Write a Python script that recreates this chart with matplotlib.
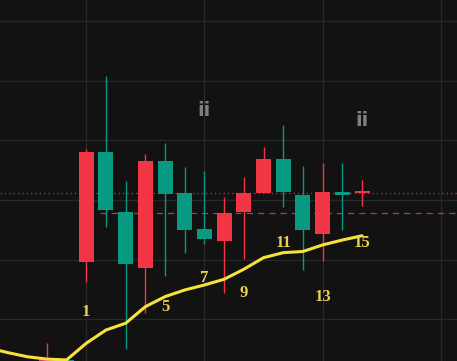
# ====================================
# CANDLESTICK CHART WITH MOVING AVERAGE
# ====================================

import numpy as np
import matplotlib.pyplot as plt

# ====================================
# DATA
# ====================================

candle_index = [-1, 0, 1, 2, 3, 4, 5, 6, 7, 8, 9, 10, 11, 12, 13, 14, 15]

opens = [86.7, 85.9, 104.03, 99.16, 94.66, 103.27, 100.53, 97.51, 96.75,
         98.91, 100.59, 103.44, 100.65, 97.46, 100.70, 100.39, 100.61]
highs = [88.0, 86.8, 104.25, 110.40, 101.59, 103.83, 104.78, 102.77, 102.43,
         100.25, 101.90, 104.42, 106.29, 102.85, 103.10, 103.10, 101.65]
lows = [85.5, 85.5, 93.15, 97.76, 87.50, 90.52, 93.65, 95.58, 96.33,
        92.22, 95.08, 100.61, 99.44, 94.15, 94.91, 97.46, 99.52]
closes = [85.8, 86.6, 94.82, 104.03, 98.99, 94.32, 103.27, 100.61, 97.59,
          96.59, 99.02, 100.61, 103.44, 100.42, 97.12, 100.70, 100.60]

ma_index = [-4, -3, -2, -1, 0, 1, 2, 3, 4, 5, 6, 7, 8, 9, 10, 11, 12, 13, 14, 15]
ma_values = [87.6, 87.2, 86.85, 86.65, 86.58, 87.98, 89.09, 89.66, 91.05,
             91.89, 92.45, 92.87, 93.35, 94.19, 95.16, 95.58, 95.68, 96.23,
             96.64, 97.00]

wave_labels = ["1", "5", "7", "9", "11", "13", "15"]
wave_index = [1, 5, 7, 9, 11, 13, 15]
wave_price = [90.57, 91.03, 93.46, 92.21, 96.42, 91.84, 96.42]

ii_index = [7, 15]
ii_price = [107.47, 106.71]

last_price = 100.59
dashed_price = 98.88

# ====================================
# STYLE
# ====================================

BG = "#121212"
GRID = "#282828"
UP = "#089981"
DOWN = "#f23645"
MA_COLOR = "#f7e23c"
LABEL_COLOR = "#e8d24e"

# ====================================
# FIGURE
# ====================================

fig = plt.figure(figsize=(4.57, 3.61), dpi=100)
fig.patch.set_facecolor(BG)

ax = fig.add_axes([0, 0, 1, 1])
ax.set_facecolor(BG)

ax.set_xlim(-3.38, 19.82)
ax.set_ylim(86.49, 116.78)

# grid
ax.set_xticks([1, 7, 13, 19])
ax.set_yticks([90, 95, 100, 105, 110, 115])
ax.grid(True, color=GRID, linewidth=0.9)
ax.tick_params(length=0, labelbottom=False, labelleft=False)
for spine in ax.spines.values():
    spine.set_visible(False)
ax.set_axisbelow(True)

# ====================================
# PRICE LINES
# ====================================

ax.axhline(last_price, color=DOWN, linewidth=0.9,
           linestyle=(0, (1, 2.5)), alpha=0.85, zorder=1)

ax.plot([1.7, 19.82], [dashed_price, dashed_price], color=DOWN,
        linewidth=0.9, linestyle=(0, (5, 4)), alpha=0.85, zorder=1)

# ====================================
# CANDLES
# ====================================

for i, o, h, l, c in zip(candle_index, opens, highs, lows, closes):

    color = UP if c > o else DOWN

    ax.vlines(i, l, h, color=color, linewidth=1.0, zorder=2)

    body = max(abs(c - o), 0.12)

    ax.bar(i, body, bottom=min(o, c), width=0.76,
           color=color, linewidth=0, zorder=3)

# ====================================
# MOVING AVERAGE
# ====================================

ax.plot(ma_index, ma_values, color=MA_COLOR, linewidth=2.2,
        solid_capstyle="round", solid_joinstyle="round", zorder=4)

# ====================================
# LABELS
# ====================================

for txt, i, p in zip(wave_labels, wave_index, wave_price):
    ax.text(i, p, txt, color=LABEL_COLOR, fontsize=12,
            family="Liberation Serif", fontweight="bold",
            ha="center", va="center", zorder=5)

for i, p in zip(ii_index, ii_price):
    ax.text(i, p, "ii", color="#808080", fontsize=14,
            family="DejaVu Sans", fontweight="bold",
            ha="center", va="center", zorder=5)

fig.savefig("out.png", dpi=100, facecolor=BG)
